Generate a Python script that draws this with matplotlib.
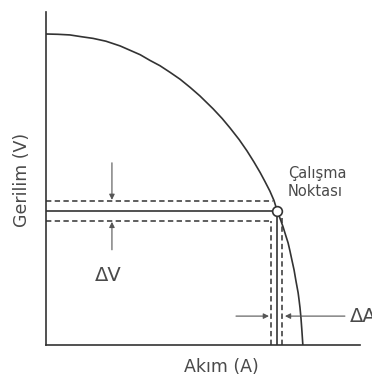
import matplotlib.pyplot as plt

# characteristic curve (arbitrary units)
akim = [0, 0.38, 0.76, 1.15, 1.50, 1.91, 2.36, 2.68, 3.00, 3.31, 3.63, 3.95,
        4.27, 4.59, 4.90, 5.32, 5.61, 5.86, 6.15, 6.40, 6.62, 6.82, 6.97, 7.13,
        7.26, 7.36, 7.45, 7.55, 7.64, 7.71, 7.77, 7.83, 7.90, 7.96, 8.03, 8.06,
        8.09, 8.12, 8.15, 8.18]
gerilim = [9.90, 9.89, 9.87, 9.81, 9.76, 9.67, 9.52, 9.38, 9.24, 9.06, 8.89, 8.68,
           8.46, 8.20, 7.93, 7.52, 7.21, 6.91, 6.54, 6.18, 5.83, 5.49, 5.21, 4.90,
           4.60, 4.28, 4.04, 3.76, 3.47, 3.25, 2.99, 2.71, 2.39, 2.04, 1.66, 1.43,
           1.18, 0.86, 0.45, 0]

# operating point and the small deltas around it
op_i, op_v = 7.36, 4.28
v_hi, v_lo = 4.59, 3.95
i_lo, i_hi = 7.18, 7.52

col = '#333333'
txt = '#4a4a4a'

fig = plt.figure(figsize=(3.72, 3.87), dpi=100)
ax = fig.add_axes([46/372, 42/387, 314/372, 333/387])
ax.set_xlim(0, 10)
ax.set_ylim(0, 10.6)
for s in ['top', 'right']:
    ax.spines[s].set_visible(False)
for s in ['left', 'bottom']:
    ax.spines[s].set_color(col)
    ax.spines[s].set_linewidth(1.2)
ax.set_xticks([])
ax.set_yticks([])

ax.plot(akim, gerilim, color=col, lw=1.2, solid_joinstyle='round')

# solid lines to the operating point
ax.plot([0, op_i], [op_v, op_v], color=col, lw=1.2)
ax.plot([op_i, op_i], [0, op_v], color=col, lw=1.2)

# dashed bands
dash = dict(color=col, lw=1.1, dashes=(3.5, 2.2))
ax.plot([0, i_lo + 0.05], [v_hi, v_hi], **dash)
ax.plot([0, i_lo], [v_lo, v_lo], **dash)
ax.plot([i_lo, i_lo], [0, v_lo], **dash)
ax.plot([i_hi, i_hi], [0, v_lo + 0.1], **dash)

ax.plot([op_i], [op_v], 'o', ms=7, mfc='white', mec=col, mew=1.2, zorder=5)

arr = dict(arrowstyle='-|>', color='#555555', lw=0.8, mutation_scale=8,
           shrinkA=0, shrinkB=0)
ax.annotate('', xy=(2.10, 4.62), xytext=(2.10, 5.80), arrowprops=arr)
ax.annotate('', xy=(2.10, 3.92), xytext=(2.10, 3.03), arrowprops=arr)
ax.annotate('', xy=(7.10, 0.92), xytext=(6.05, 0.92), arrowprops=arr)
ax.annotate('', xy=(7.61, 0.92), xytext=(9.52, 0.92), arrowprops=arr)

ax.text(1.97, 2.20, '\u0394V', fontsize=14, color=txt, ha='center', va='center')
# the reference cuts this label at the right edge as well
ax.text(9.68, 0.92, '\u0394A', fontsize=14, color=txt, ha='left', va='center',
        clip_on=False)
ax.text(7.71, 5.17, 'Çalışma\nNoktası', fontsize=10.5, color=txt, ha='left',
        va='center', linespacing=1.25)

ax.text(0.557, -0.066, 'Akım (A)', fontsize=12.5, color=txt, ha='center',
        va='center', transform=ax.transAxes)
ax.text(-0.076, 0.495, 'Gerilim (V)', fontsize=12.5, color=txt, ha='center',
        va='center', rotation=90, transform=ax.transAxes)

plt.savefig('out.png', dpi=100)
